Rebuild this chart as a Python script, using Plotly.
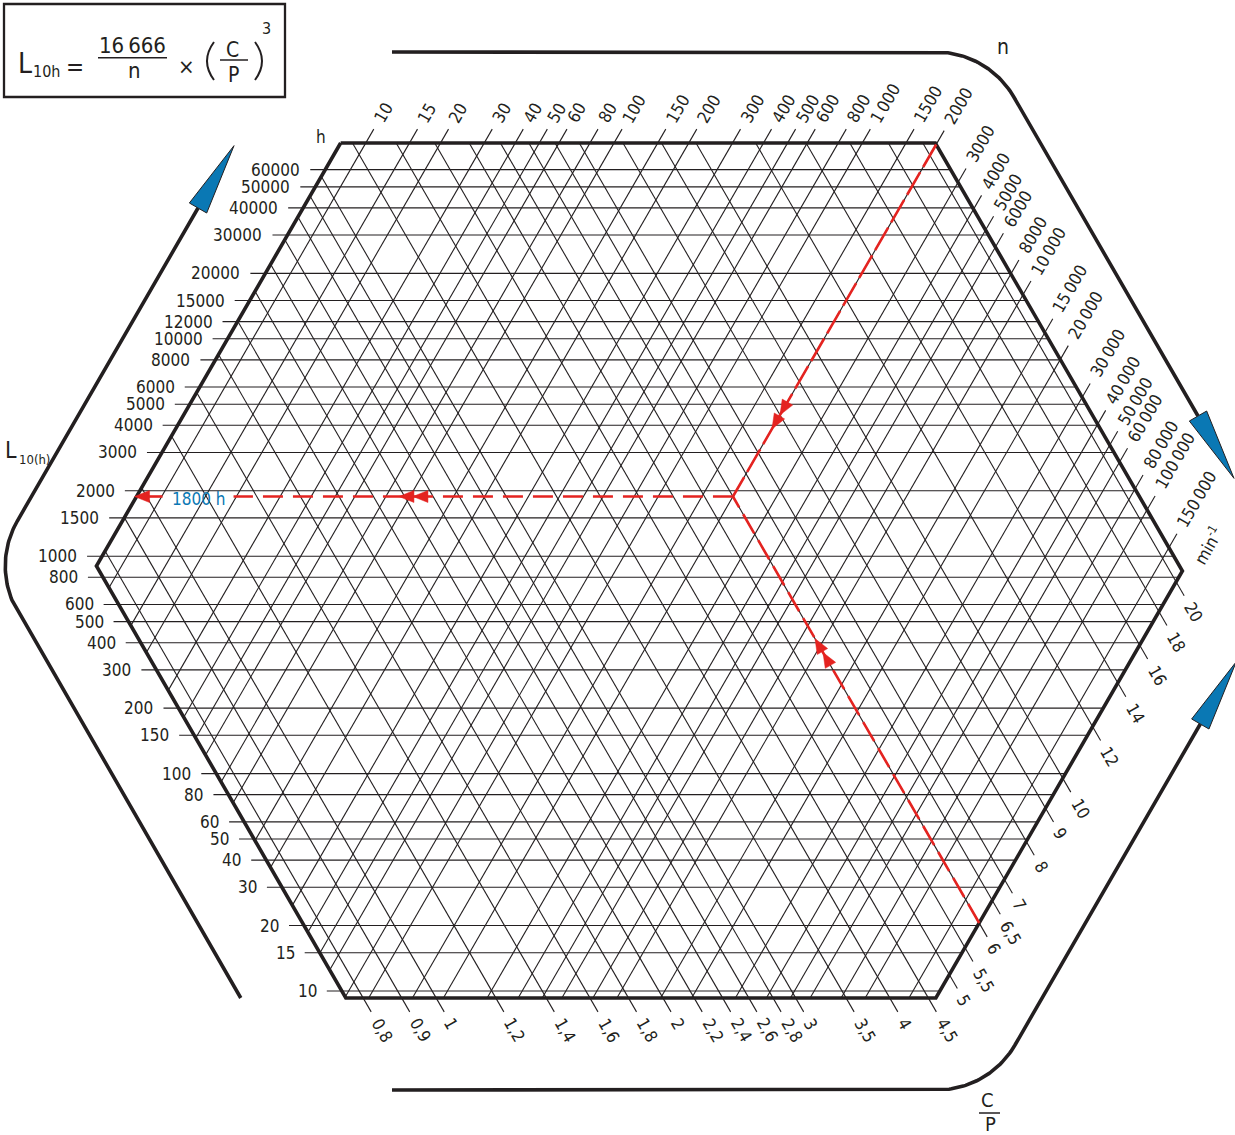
import numpy as np
import plotly.graph_objects as go

# ---------------- data (scale values) ----------------
life_hours = [10, 15, 20, 30, 40, 50, 60, 80, 100, 150, 200, 300, 400, 500, 600, 800,
              1000, 1500, 2000, 3000, 4000, 5000, 6000, 8000, 10000, 12000, 15000,
              20000, 30000, 40000, 50000, 60000]
life_labels = [str(v) for v in life_hours]

speed_values = [10, 15, 20, 30, 40, 50, 60, 80, 100, 150, 200, 300, 400, 500, 600, 800,
                1000, 1500, 2000, 3000, 4000, 5000, 6000, 8000, 10000, 15000, 20000,
                30000, 40000, 50000, 60000, 80000, 100000, 150000]
TS = "\u2009"
speed_labels = ["10", "15", "20", "30", "40", "50", "60", "80", "100", "150", "200", "300",
                "400", "500", "600", "800", "1" + TS + "000", "1500", "2000", "3000", "4000",
                "5000", "6000", "8000", "10" + TS + "000", "15" + TS + "000", "20" + TS + "000",
                "30" + TS + "000", "40" + TS + "000", "50" + TS + "000", "60" + TS + "000",
                "80" + TS + "000", "100" + TS + "000", "150" + TS + "000"]

load_values = [0.8, 0.9, 1, 1.2, 1.4, 1.6, 1.8, 2, 2.2, 2.4, 2.6, 2.8, 3, 3.5, 4, 4.5,
               5, 5.5, 6, 6.5, 7, 8, 9, 10, 12, 14, 16, 18, 20]
load_labels = [f"{v:g}".replace(".", ",") for v in load_values]

example_speed = 2000      # min^-1
example_load = 6          # C/P
example_life_label = "1800 h"

# ---------------- nomogram calibration (layout) ----------------
S3 = np.sqrt(3.0)
K_LIFE, Y_AT_10H = 217.4, 991.0          # px per decade of L10h, y of 10 h
N_REF, CN_REF, SN = 2000.0, 1766.0, 430.0  # speed family:  sqrt3*x + y = const
P_REF, CP_REF, SP = 6.0, 773.0, 1305.0     # load family:   sqrt3*x - y = const
Y_TOP, Y_BOT = 143.0, 998.0
CN_LO, CN_HI = 733.0, 2619.0
CP_LO, CP_HI = -399.0, 1477.0
TICK, GAP, HEXT = 16.0, 9.0, 15.0
OFF = 182.0                                 # bracket offset (in const units, = 2*91 px)

FONT = "DejaVu Sans Condensed, DejaVu Sans, Verdana, sans-serif"
INK = "#231f20"
RED = "#e42320"
BLUE = "#0a78b4"
FS = 17


def y_life(h):
    return Y_AT_10H - K_LIFE * (np.log10(h) - 1.0)


def c_speed(n):
    return CN_REF + SN * np.log10(n / N_REF)


def c_load(p):
    return CP_REF + SP * np.log10(p / P_REF)


def text_w(s, size):
    w = 0.0
    for ch in s:
        if ch.isdigit():
            w += 0.573
        elif ch == ",":
            w += 0.29
        elif ch == TS:
            w += 0.2
        else:
            w += 0.55
    return w * size


annotations = []


def label(x, y, text, size=FS, angle=0, xanchor="center", yanchor="middle", color=INK):
    annotations.append(dict(x=x, y=y, xref="x", yref="y", text=text, showarrow=False,
                            textangle=angle, xanchor=xanchor, yanchor=yanchor,
                            font=dict(family=FONT, size=size, color=color)))


gx, gy = [], []

# speed lines (down-left), ticks on upper/right side
ux, uy = 0.5, -S3 / 2
for n, lab in zip(speed_values, speed_labels):
    c = c_speed(n)
    y1 = max(Y_TOP, (c - CP_HI) / 2)
    y2 = min(Y_BOT, (c - CP_LO) / 2)
    x1, x2 = (c - y1) / S3, (c - y2) / S3
    x0, y0 = x1 + TICK * ux, y1 + TICK * uy
    gx += [x0, x2, None]
    gy += [y0, y2, None]
    d = GAP + text_w(lab, FS) / 2
    label(x0 + d * ux, y0 + d * uy, lab, angle=-60)

# load lines (up-left), ticks on lower side
vx, vy = 0.5, S3 / 2
for p, lab in zip(load_values, load_labels):
    c = c_load(p)
    y1 = max(Y_TOP, (CN_LO - c) / 2)
    y2 = min(Y_BOT, (CN_HI - c) / 2)
    x1, x2 = (c + y1) / S3, (c + y2) / S3
    xe, ye = x2 + TICK * vx, y2 + TICK * vy
    gx += [x1, xe, None]
    gy += [y1, ye, None]
    d = GAP + text_w(lab, FS) / 2
    label(xe + d * vx, ye + d * vy, lab, angle=60)

# life lines (horizontal), ticks on the left
for h, lab in zip(life_hours, life_labels):
    y = y_life(h)
    xl = max((CN_LO - y) / S3, (CP_LO + y) / S3)
    xr = min((CN_HI - y) / S3, (CP_HI + y) / S3)
    gx += [xl - HEXT, xr, None]
    gy += [y, y, None]
    label(xl - HEXT - 8, y, lab, xanchor="right")

fig = go.Figure()
fig.add_trace(go.Scatter(x=gx, y=gy, mode="lines", line=dict(color=INK, width=1.1),
                         hoverinfo="skip", showlegend=False))

# hexagon frame
hexv = [((CN_LO - Y_TOP) / S3, Y_TOP), ((CP_HI + Y_TOP) / S3, Y_TOP),
        ((CN_HI + CP_HI) / (2 * S3), (CN_HI - CP_HI) / 2), ((CN_HI - Y_BOT) / S3, Y_BOT),
        ((CP_LO + Y_BOT) / S3, Y_BOT), ((CN_LO + CP_LO) / (2 * S3), (CN_LO - CP_LO) / 2)]
hexv.append(hexv[0])
fig.add_trace(go.Scatter(x=[p[0] for p in hexv], y=[p[1] for p in hexv], mode="lines",
                         line=dict(color=INK, width=3.6), hoverinfo="skip", showlegend=False))


# ---------------- outer brackets with blue arrows ----------------
def fillet(A, C, B, r, npts=40):
    A, B, C = np.array(A, float), np.array(B, float), np.array(C, float)
    u1 = (A - C) / np.linalg.norm(A - C)
    u2 = (B - C) / np.linalg.norm(B - C)
    th = np.arccos(np.clip(np.dot(u1, u2), -1, 1))
    t = r / np.tan(th / 2)
    T1, T2 = C + t * u1, C + t * u2
    bis = (u1 + u2) / np.linalg.norm(u1 + u2)
    O = C + bis * r / np.sin(th / 2)
    a1 = np.arctan2(*(T1 - O)[::-1])
    a2 = np.arctan2(*(T2 - O)[::-1])
    da = (a2 - a1 + np.pi) % (2 * np.pi) - np.pi
    angs = a1 + da * np.linspace(0, 1, npts)
    arc = np.c_[O[0] + r * np.cos(angs), O[1] + r * np.sin(angs)]
    pts = np.vstack([A, arc, B])
    return list(pts[:, 0]), list(pts[:, 1])


def big_arrow(B, C, length=72, width=20):
    B, C = np.array(B, float), np.array(C, float)
    u = (B - C) / np.linalg.norm(B - C)
    p = np.array([-u[1], u[0]])
    tip = B + length * u
    b1, b2 = B + p * width / 2, B - p * width / 2
    return [tip[0], b1[0], b2[0], tip[0]], [tip[1], b1[1], b2[1], tip[1]]


R = 90
brackets = []
# left bracket
cu, cl = CN_LO - OFF, CP_LO - OFF
C = ((cu + cl) / (2 * S3), (cu - cl) / 2)
A = ((cl + Y_BOT) / S3, Y_BOT)
B = ((cu - 208) / S3, 208)
brackets.append((A, C, B))
# top bracket
yt = Y_TOP - OFF / 2
C = ((CP_HI + OFF + yt) / S3, yt)
A = (392, yt)
B = ((CP_HI + OFF + 416) / S3, 416)
brackets.append((A, C, B))
# bottom bracket
yb = Y_BOT + OFF / 2 + 1
C = ((CN_HI + OFF + 2 - yb) / S3, yb)
A = (392, yb)
B = ((CN_HI + OFF + 2 - 724) / S3, 724)
brackets.append((A, C, B))

for A, C, B in brackets:
    bx, by = fillet(A, C, B, R)
    fig.add_trace(go.Scatter(x=bx, y=by, mode="lines", line=dict(color=INK, width=3.6),
                             hoverinfo="skip", showlegend=False))
    ax, ay = big_arrow(B, C)
    fig.add_trace(go.Scatter(x=ax, y=ay, mode="lines", fill="toself", fillcolor=BLUE,
                             line=dict(color=INK, width=1), hoverinfo="skip", showlegend=False))

# ---------------- worked example (red) ----------------
cn0, cp0 = c_speed(example_speed), c_load(example_load)
xi, yi = (cn0 + cp0) / (2 * S3), (cn0 - cp0) / 2
# speed line entry
yn = max(Y_TOP, (cn0 - CP_HI) / 2)
xn = (cn0 - yn) / S3
# load line exit
yp = min(Y_BOT, (CN_HI - cp0) / 2)
xp = (cp0 + yp) / S3
# left edge at yi
xl = max((CN_LO - yi) / S3, (CP_LO + yi) / S3)

fig.add_trace(go.Scatter(x=[xn, xi], y=[yn, yi], mode="lines",
                         line=dict(color=RED, width=2.6, dash="26px,6px"),
                         hoverinfo="skip", showlegend=False))
fig.add_trace(go.Scatter(x=[xp, xi], y=[yp, yi], mode="lines",
                         line=dict(color=RED, width=2.6, dash="22px,8px"),
                         hoverinfo="skip", showlegend=False))
lab_cx = xl + 62
lab_hw = 27
fig.add_trace(go.Scatter(x=[xi, lab_cx + lab_hw + 8], y=[yi, yi], mode="lines",
                         line=dict(color=RED, width=2.6, dash="20px,10px"),
                         hoverinfo="skip", showlegend=False))
fig.add_trace(go.Scatter(x=[xl + 8, lab_cx - lab_hw - 9], y=[yi, yi], mode="lines",
                         line=dict(color=RED, width=2.6),
                         hoverinfo="skip", showlegend=False))
label(lab_cx, yi + 2, example_life_label, size=17, color=BLUE)


def head(tx, ty, dx, dy, L=15, W=12):
    bx, by = tx - L * dx, ty - L * dy
    px, py = -dy, dx
    return ([tx, bx + W / 2 * px, bx - W / 2 * px, tx],
            [ty, by + W / 2 * py, by - W / 2 * py, ty])


hx, hy = [], []
# along speed line, pointing toward intersection
dn = (-0.5, S3 / 2)
for s in (78, 94):
    a, b = head(xi - s * dn[0], yi - s * dn[1], *dn)
    hx += a + [None]
    hy += b + [None]
dp = (-0.5, -S3 / 2)
for s in (164, 180):
    a, b = head(xi - s * dp[0], yi - s * dp[1], *dp)
    hx += a + [None]
    hy += b + [None]
for s in (320, 334):
    a, b = head(xi - s, yi, -1, 0)
    hx += a + [None]
    hy += b + [None]
a, b = head(xl - 2, yi, -1, 0)
hx += a
hy += b
fig.add_trace(go.Scatter(x=hx, y=hy, mode="lines", fill="toself", fillcolor=RED,
                         line=dict(color=RED, width=0.5), hoverinfo="skip", showlegend=False))

# ---------------- axis titles ----------------
label(321, 137, "h", size=17)
label(11, 450, "L", size=23)
label(17, 459, "10(h)", size=13, xanchor="left")
label(1003, 47, "n", size=21)
label(1208, 545, "min<sup>-1</sup>", size=17, angle=-60)
label(987.5, 1100, "C", size=20)
label(990, 1124, "P", size=20)

shapes = [
    dict(type="line", x0=979, x1=1000, y0=1113, y1=1113, xref="x", yref="y",
         line=dict(color=INK, width=1.5)),
    # formula box
    dict(type="rect", x0=4, y0=4, x1=285, y1=97, xref="x", yref="y",
         line=dict(color=INK, width=2.3)),
    dict(type="line", x0=98, x1=167, y0=57.7, y1=57.7, xref="x", yref="y",
         line=dict(color=INK, width=1.5)),
    dict(type="line", x0=220, x1=248, y0=60, y1=60, xref="x", yref="y",
         line=dict(color=INK, width=1.5)),
    dict(type="path", path="M 214,42 Q 200,61 214,80", xref="x", yref="y",
         line=dict(color=INK, width=2)),
    dict(type="path", path="M 255,42 Q 269,61 255,80", xref="x", yref="y",
         line=dict(color=INK, width=2)),
]

# formula text
label(24.5, 63.5, "L", size=28)
label(31, 71, "10h", size=16, xanchor="left")
label(75, 67, "=", size=24)
label(132.5, 45, "16" + TS + "666", size=22)
label(134, 70, "n", size=22)
label(186, 66, "×", size=22)
label(232, 49.5, "C", size=21)
label(233, 74.5, "P", size=21)
label(266, 28.5, "3", size=16)

fig.update_layout(
    width=1235, height=1135, margin=dict(l=0, r=0, t=0, b=0),
    paper_bgcolor="white", plot_bgcolor="white",
    xaxis=dict(range=[0, 1235], visible=False, fixedrange=True),
    yaxis=dict(range=[1135, 0], visible=False, fixedrange=True),
    annotations=annotations, shapes=shapes, showlegend=False,
)
fig.write_html("out.html", config={"displayModeBar": False})
